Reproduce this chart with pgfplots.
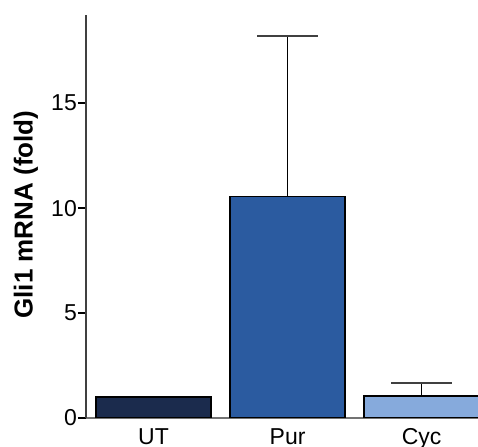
\documentclass[border=0pt]{standalone}
\usepackage{fontspec}
\setmainfont{Liberation Sans}
\usepackage{pgfplots}
\pgfplotsset{compat=1.18}
\definecolor{cUT}{HTML}{1B2B4D}
\definecolor{cPur}{HTML}{2B5BA0}
\definecolor{cCyc}{HTML}{86AADC}
\begin{document}
\begin{tikzpicture}
\begin{axis}[
  scale only axis,
  width=392bp, height=403bp,
  xmin=-0.504, xmax=2.421,
  ymin=0, ymax=19.2,
  axis x line=bottom, axis y line=left,
  axis line style={draw=black!75, line width=1.2bp, -},
  x axis line style={draw=black!55},
  ytick={0,5,10,15},
  xtick={0,1,2},
  xticklabels={UT,Pur,Cyc},
  tick align=outside,
  major tick length=8bp,
  ytick style={draw=black, line width=2bp},
  xtick style={draw=none},
  /pgf/number format/assume math mode=true,
  tick label style={font=\fontsize{23bp}{27bp}\selectfont},
  yticklabel style={inner sep=1bp},
  xticklabel style={inner sep=0pt, yshift=-2bp},
  ylabel={Gli1 mRNA (fold)},
  every axis y label/.style={at={(axis description cs:0,0.5)}, rotate=90, anchor=center, yshift=60bp, xshift=2bp, font=\bfseries\fontsize{26bp}{30bp}\selectfont},
  ybar, bar width=115bp, bar shift=0pt,
  every axis plot/.append style={draw=black, line width=1.2bp},
  error bars/y dir=plus, error bars/y explicit,
  error bars/error mark=|,
  error bars/error bar style={draw=black, line width=1.2bp},
  error bars/error mark options={draw=black!75, line width=2bp, mark size=30.5bp},
]
\addplot[fill=cUT] coordinates {(0,1.0)};
\addplot[fill=cPur] coordinates {(1,10.55) +- (0,7.65)};
\addplot[fill=cCyc] coordinates {(2,1.05) +- (0,0.60)};
\end{axis}
\pgfresetboundingbox
\path[use as bounding box] (-86bp,-29bp) rectangle (392bp,418bp);
\end{tikzpicture}
\end{document}
